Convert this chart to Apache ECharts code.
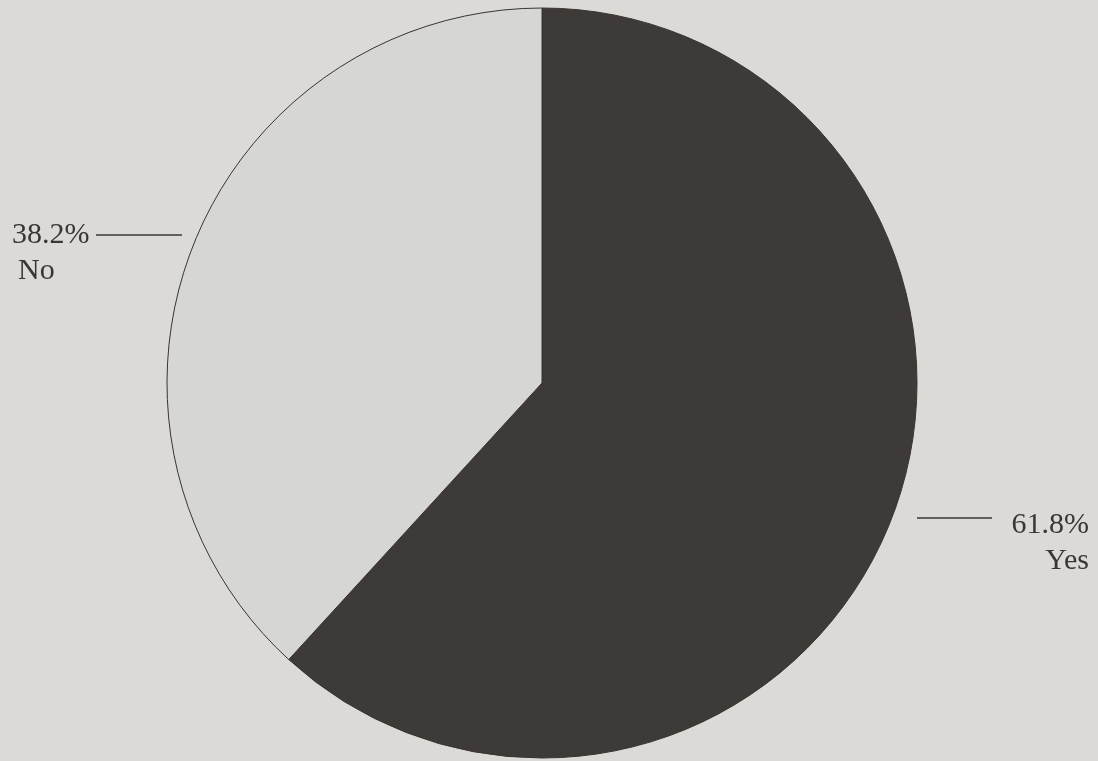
<!DOCTYPE html>
<html>
<head>
<meta charset="utf-8">
<script src="https://cdn.jsdelivr.net/npm/echarts@6/dist/echarts.min.js"></script>
<style>
html,body{margin:0;padding:0;background:#dcdad7;}
#chart{width:1098px;height:761px;}
</style>
</head>
<body>
<div id="chart"></div>
<script>
var categories = ['Yes', 'No'];
var values = [61.8, 38.2];
var sliceColors = ['#3e3a37', '#d6d6d5'];

var chart = echarts.init(document.getElementById('chart'), null, {renderer: 'canvas'});

var labelSpots = {
  'Yes': {x: 1089, y: 507, align: 'right', line: [[917, 518], [992, 518]]},
  'No':  {x: 12,   y: 217, align: 'left',  line: [[96, 235], [182, 235]]}
};

var data = categories.map(function (c, i) {
  return {
    name: c,
    value: values[i],
    itemStyle: {color: sliceColors[i]},
    label: {align: labelSpots[c].align}
  };
});

chart.setOption({
  backgroundColor: '#dcdad7',
  animation: false,
  series: [{
    type: 'pie',
    center: [542, 383],
    radius: 375,
    startAngle: 90,
    clockwise: true,
    data: data,
    itemStyle: {borderColor: '#3a3431', borderWidth: 1},
    label: {
      show: true,
      formatter: function (p) {
        return '{v|' + p.value.toFixed(1) + '%}\n' +
          (p.name === 'No' ? '{n|' + p.name + '}' : '{m|' + p.name + '}');
      },
      fontFamily: 'Liberation Serif',
      color: '#3a3633',
      rich: {
        v: {fontFamily: 'Liberation Serif', fontSize: 30, lineHeight: 36, color: '#3a3633'},
        n: {fontFamily: 'Liberation Serif', fontSize: 30, lineHeight: 36, color: '#3a3633', padding: [0, 0, 0, 6]},
        m: {fontFamily: 'Liberation Serif', fontSize: 30, lineHeight: 36, color: '#3a3633'}
      }
    },
    labelLine: {show: true, lineStyle: {color: '#3a3633', width: 1.5}},
    labelLayout: function (params) {
      var s = labelSpots[categories[params.dataIndex]];
      return {
        x: s.x,
        y: s.y,
        align: s.align,
        verticalAlign: 'top',
        labelLinePoints: [s.line[0], s.line[1], s.line[1]]
      };
    }
  }]
});
</script>
</body>
</html>
